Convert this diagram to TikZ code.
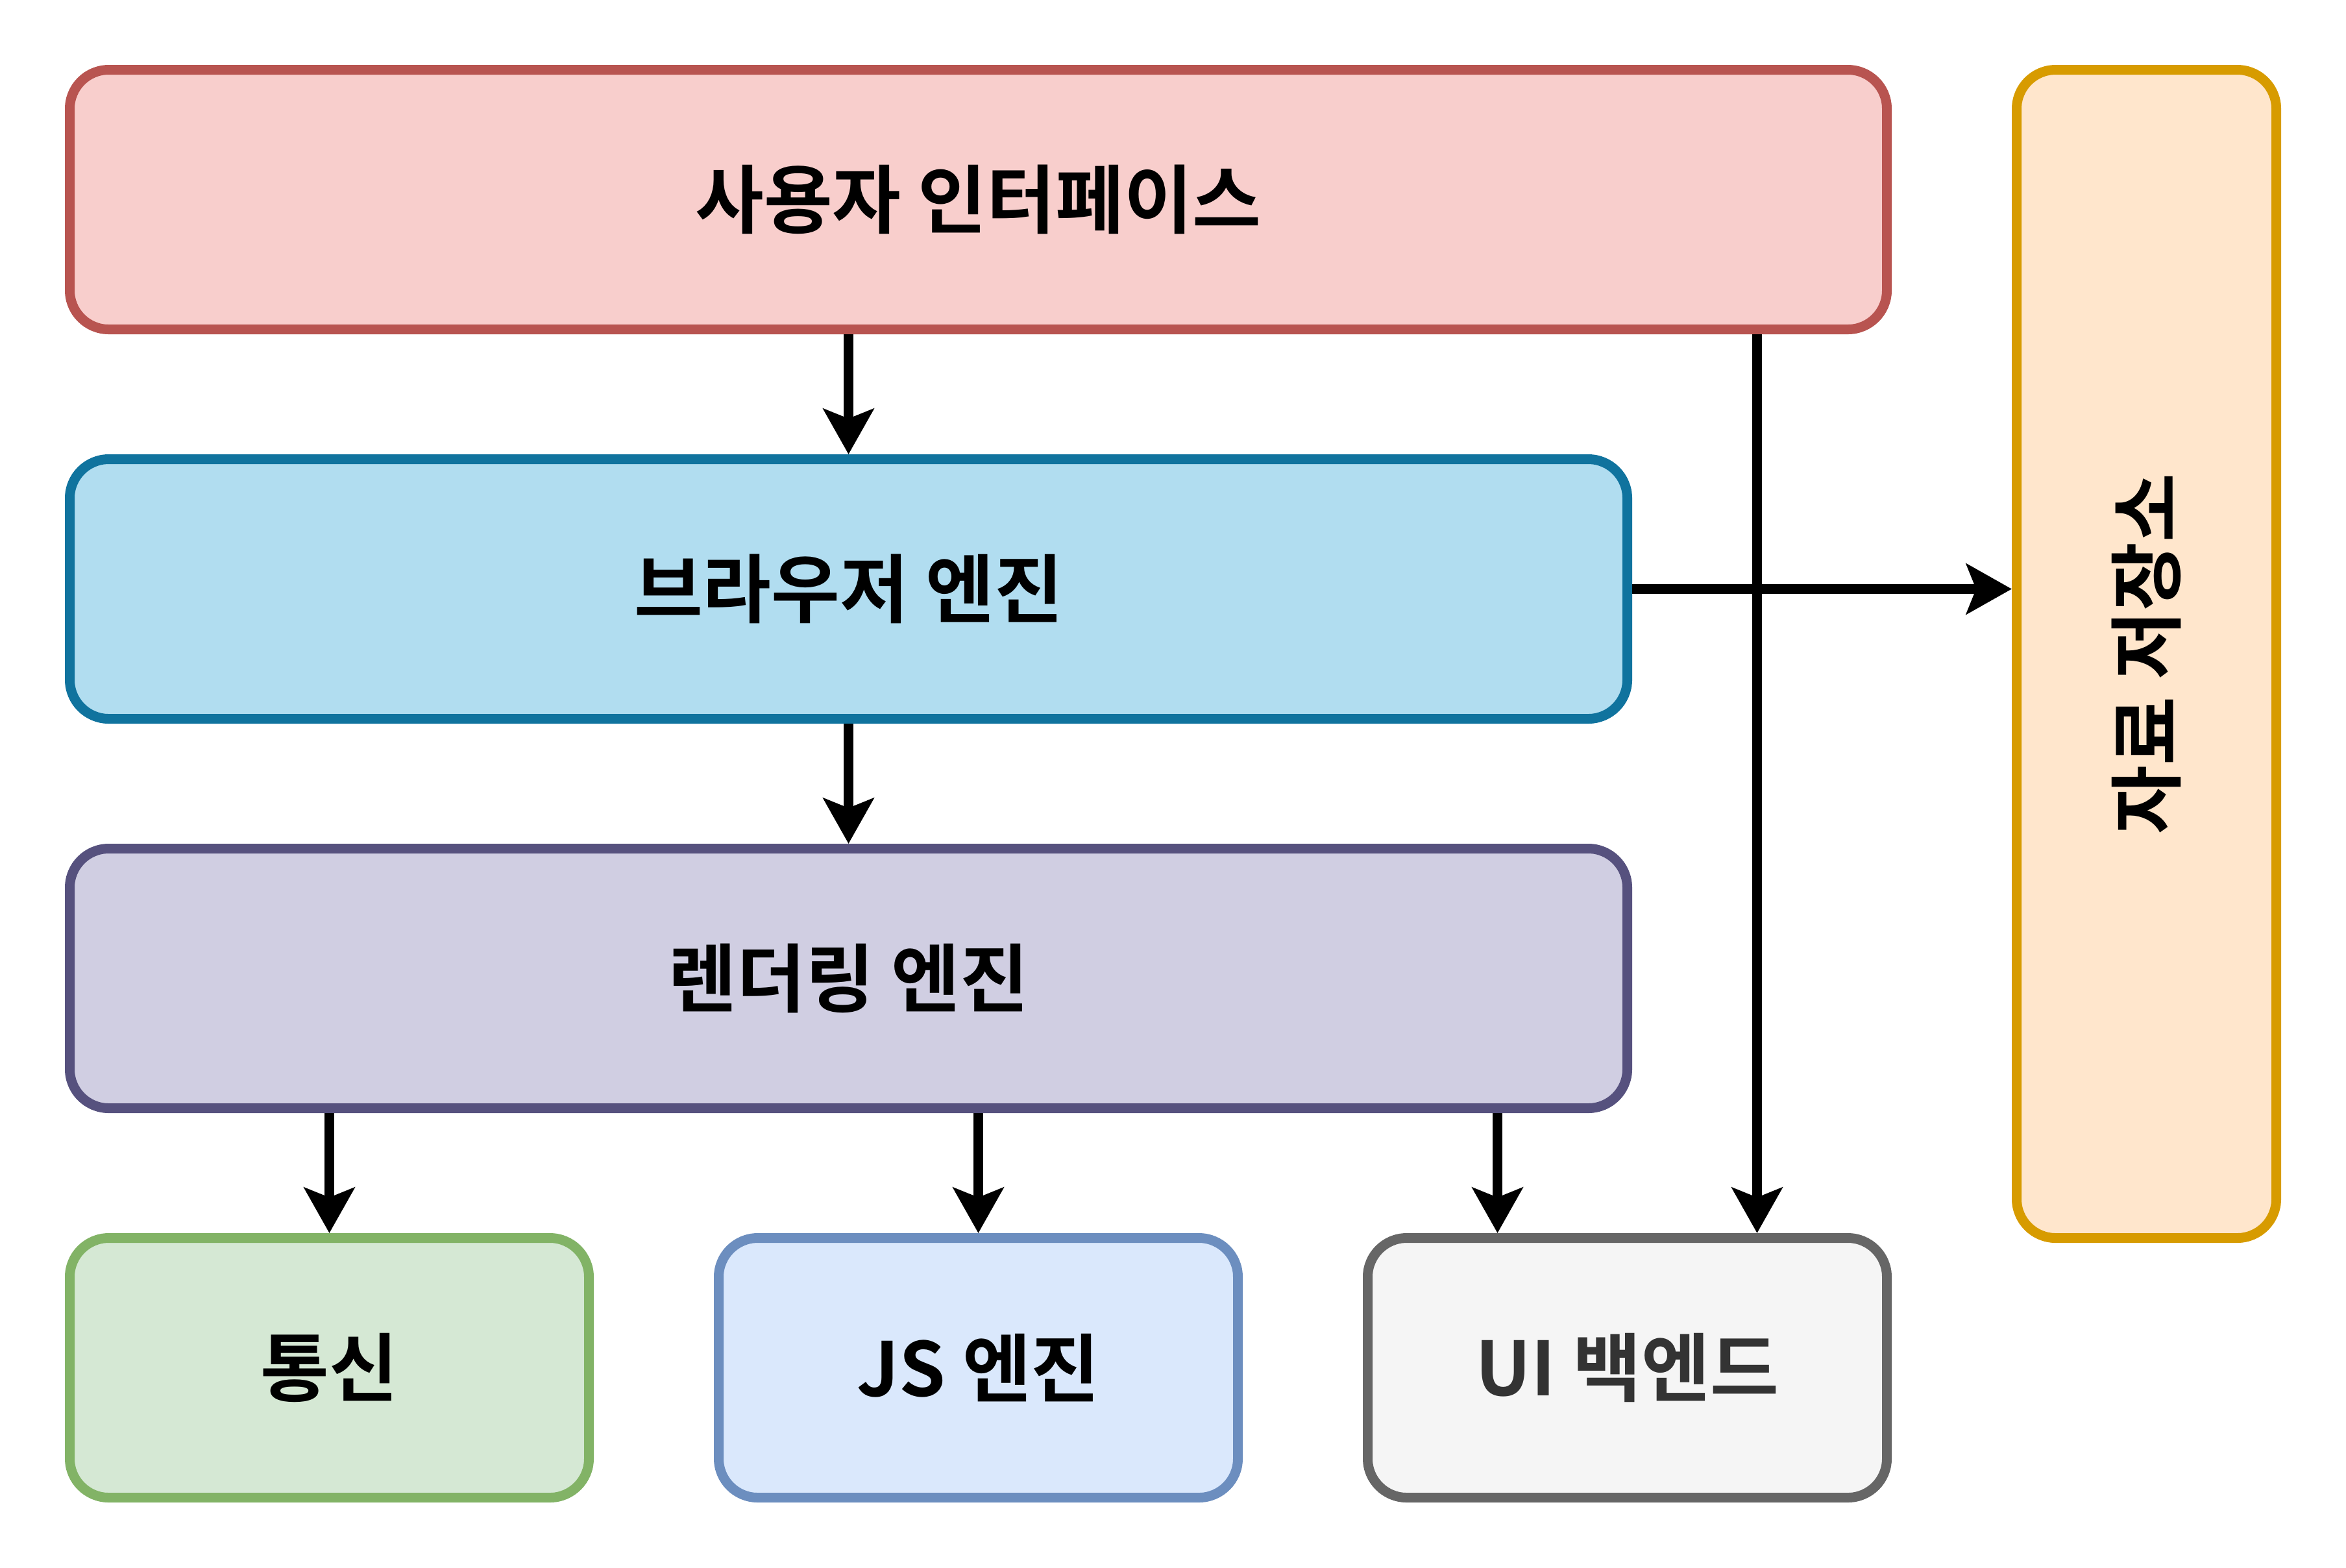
\documentclass[tikz,border=0pt]{standalone}
\usepackage{fontspec}
\setmainfont{Noto Sans CJK KR}[BoldFont=* Bold]
\usetikzlibrary{arrows.meta}
\definecolor{uiFill}{HTML}{F8CECC}\definecolor{uiLine}{HTML}{B85450}
\definecolor{beFill}{HTML}{B1DDF0}\definecolor{beLine}{HTML}{10739E}
\definecolor{reFill}{HTML}{D0CEE2}\definecolor{reLine}{HTML}{56517E}
\definecolor{nwFill}{HTML}{D5E8D4}\definecolor{nwLine}{HTML}{82B366}
\definecolor{jsFill}{HTML}{DAE8FC}\definecolor{jsLine}{HTML}{6C8EBF}
\definecolor{bkFill}{HTML}{F5F5F5}\definecolor{bkLine}{HTML}{666666}
\definecolor{bkText}{HTML}{333333}
\definecolor{dsFill}{HTML}{FFE6CC}\definecolor{dsLine}{HTML}{D79B00}
\tikzset{
  labelfont/.style={font=\bfseries\fontsize{23}{27}\selectfont},
  box/.style={draw, line width=3pt, rounded corners=12pt, inner sep=0pt,
    labelfont, text=black},
  conn/.style={line width=3pt, -{Stealth[length=14pt,width=15.5pt,inset=3pt]}},
}
\begin{document}
\begin{tikzpicture}[x=1pt,y=-1pt]
\useasboundingbox (-21.5,-21.5) rectangle (701.5,461.5);
\node[box, fill=uiFill, draw=uiLine, minimum width=560pt, minimum height=80pt] (ui) at (280,40) {사용자 인터페이스};
\node[box, fill=beFill, draw=beLine, minimum width=480pt, minimum height=80pt] (be) at (240,160) {브라우저 엔진};
\node[box, fill=reFill, draw=reLine, minimum width=480pt, minimum height=80pt] (re) at (240,280) {렌더링 엔진};
\node[box, fill=nwFill, draw=nwLine, minimum width=160pt, minimum height=80pt] (nw) at (80,400) {통신};
\node[box, fill=jsFill, draw=jsLine, minimum width=160pt, minimum height=80pt] (js) at (280,400) {JS 엔진};
\node[box, fill=bkFill, draw=bkLine, text=bkText, minimum width=160pt, minimum height=80pt] (bk) at (480,400) {UI 백엔드};
\node[box, fill=dsFill, draw=dsLine, minimum width=80pt, minimum height=360pt] (ds) at (640,180) {};
\node[labelfont, rotate=90] (dslabel) at (ds.center) {자료 저장소};
\coordinate (xa) at (240,0);
\coordinate (xb) at (520,0);
\coordinate (xc) at (80,0);
\coordinate (xd) at (280,0);
\coordinate (xe) at (440,0);
\draw[conn] (ui.south -| xa) -- (be.north -| xa);
\draw[conn] (ui.south -| xb) -- (bk.north -| xb);
\draw[conn] (be.east) -- (be.east -| ds.west);
\draw[conn] (be.south -| xa) -- (re.north -| xa);
\draw[conn] (re.south -| xc) -- (nw.north -| xc);
\draw[conn] (re.south -| xd) -- (js.north -| xd);
\draw[conn] (re.south -| xe) -- (bk.north -| xe);
\end{tikzpicture}
\end{document}
